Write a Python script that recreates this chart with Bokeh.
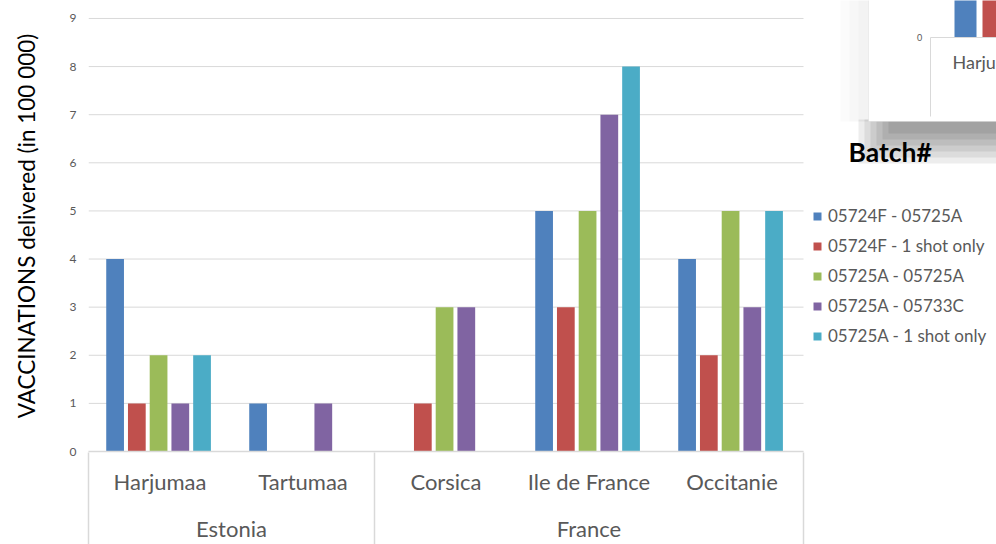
from bokeh.plotting import figure
from bokeh.models import (Range1d, ColumnDataSource, Legend, LegendItem,
                          Label, BoxAnnotation, FixedTicker, LinearAxis)
from bokeh.transform import dodge
from bokeh.embed import file_html
from bokeh.resources import INLINE

# ---------------- data ----------------
countries = ["Estonia", "Estonia", "France", "France", "France"]
regions = ["Harjumaa", "Tartumaa", "Corsica", "Ile de France", "Occitanie"]
batches = ["05724F - 05725A", "05724F - 1 shot only", "05725A - 05725A",
           "05725A - 05733C", "05725A - 1 shot only"]
b_05724F_05725A = [4, 1, 0, 5, 4]
b_05724F_1shot = [1, 0, 1, 3, 2]
b_05725A_05725A = [2, 0, 3, 5, 5]
b_05725A_05733C = [1, 1, 3, 7, 3]
b_05725A_1shot = [2, 0, 0, 8, 5]
y_ticks = [0, 1, 2, 3, 4, 5, 6, 7, 8, 9]
y_title = "VACCINATIONS delivered (in 100 000)"
legend_title = "Batch#"

colors = ["#4F81BD", "#C0504D", "#9BBB59", "#8064A2", "#4BACC6"]
FONT = "Lato"
GREY_TXT = "#595959"
GRID = "#D9D9D9"

# ---------------- layout constants ----------------
W, H = 996, 544
LEFT, BOTTOM = 88, 92          # axis panels
SLOT = 143                      # px per region slot
TOP_PAD = 18                    # px between frame top and the "9" gridline
frame_w, frame_h = W - LEFT, H - BOTTOM

series = [b_05724F_05725A, b_05724F_1shot, b_05725A_05725A, b_05725A_05733C, b_05725A_1shot]
keys = ["s%d" % i for i in range(len(series))]
pos = [i + 0.5 for i in range(len(regions))]   # category slot centres
data = {"region": regions, "pos": pos}
for k, s in zip(keys, series):
    data[k] = s
src = ColumnDataSource(data)

x_end = frame_w / SLOT
y_end = y_ticks[-1] * frame_h / (frame_h - TOP_PAD)

p = figure(x_range=Range1d(0, x_end), y_range=Range1d(y_ticks[0], y_end),
           width=W, height=H,
           min_border_left=LEFT, min_border_right=0, min_border_top=0, min_border_bottom=BOTTOM,
           output_backend="svg", toolbar_location=None)
p.outline_line_color = None
p.xgrid.visible = False
p.ygrid.visible = False

# horizontal gridlines over the category span only
gsrc = ColumnDataSource(dict(y=y_ticks, x0=[0] * len(y_ticks), x1=[len(regions)] * len(y_ticks)))
p.segment(x0="x0", x1="x1", y0="y", y1="y", source=gsrc, line_color=GRID, line_width=1)

# bars
step = 0.152
bw = 0.124
renderers = []
n = len(series)
for i, (k, c) in enumerate(zip(keys, colors)):
    off = (i - (n - 1) / 2) * step - 0.01
    r = p.vbar(x=dodge("pos", off), top=k, width=bw, bottom=0,
               source=src, fill_color=c, line_color=None)
    renderers.append(r)

# ---------------- axes ----------------
ya = p.yaxis[0]
ya.ticker = FixedTicker(ticks=y_ticks)
ya.axis_line_color = None
ya.major_tick_line_color = None
ya.minor_tick_line_color = None
ya.major_tick_out = 0
ya.minor_tick_out = 0
ya.major_label_text_font = FONT
ya.major_label_text_font_size = "12px"
ya.major_label_text_color = GREY_TXT
ya.major_label_standoff = 12
ya.axis_label = y_title
ya.axis_label_text_font = FONT
ya.axis_label_text_font_size = "22.5px"
ya.axis_label_text_font_style = "normal"
ya.axis_label_text_color = "#000000"
ya.axis_label_standoff = 27

xa = p.xaxis[0]
xa.ticker = FixedTicker(ticks=pos)
xa.major_label_overrides = {x: r for x, r in zip(pos, regions)}
xa.bounds = (0, len(regions))
xa.axis_line_color = GRID
xa.axis_line_width = 1.5
xa.major_tick_line_color = None
xa.minor_tick_line_color = None
xa.major_tick_out = 0
xa.minor_tick_out = 0
xa.major_label_text_font = FONT
xa.major_label_text_font_size = "22px"
xa.major_label_text_color = GREY_TXT
xa.major_label_standoff = 16

# country (group) axis
groups, centers, bounds = [], [], [0]
i = 0
while i < len(countries):
    j = i
    while j < len(countries) and countries[j] == countries[i]:
        j += 1
    groups.append(countries[i])
    centers.append((i + j) / 2)
    bounds.append(j)
    i = j
ca = LinearAxis(ticker=FixedTicker(ticks=centers),
                major_label_overrides={c: g for c, g in zip(centers, groups)})
ca.axis_line_color = None
ca.major_tick_line_color = None
ca.minor_tick_line_color = None
ca.major_tick_out = 0
ca.minor_tick_out = 0
ca.major_label_text_font = FONT
ca.major_label_text_font_size = "22px"
ca.major_label_text_color = GREY_TXT
ca.major_label_standoff = 17
p.add_layout(ca, "below")

# group separators: long inward ticks of a label-less axis at the bottom
sa = LinearAxis(ticker=FixedTicker(ticks=bounds),
                major_label_overrides={b: "" for b in bounds})
sa.axis_line_color = None
sa.major_tick_in = BOTTOM
sa.major_tick_out = 0
sa.minor_tick_in = 0
sa.minor_tick_out = 0
sa.major_tick_line_color = GRID
sa.major_tick_line_width = 1.5
sa.minor_tick_line_color = None
sa.major_label_text_font_size = "1px"
sa.major_label_standoff = 0
p.add_layout(sa, "below")

# ---- overlapping preview-window decoration (top right), frame-relative px ----
def sbox(l, r, t, b, **kw):
    p.add_layout(BoxAnnotation(left=l, right=r, top=t, bottom=b,
                               left_units="screen", right_units="screen",
                               top_units="screen", bottom_units="screen", **kw))

for k in range(6):
    sbox(770 + 6 * k, 920, 332, 288 + 6 * k, fill_color="black", fill_alpha=0.07, line_color=None)
for k in range(3):
    sbox(752 + 9 * k, 780, 470, 330, fill_color="black", fill_alpha=0.015, line_color=None)
sbox(780, 920, 470, 330, fill_color="white", fill_alpha=1, line_color="#C8C8C8", line_width=1)
sbox(866, 888, 470, 414, fill_color=colors[0], fill_alpha=1, line_color=None)
sbox(894, 920, 470, 414, fill_color=colors[1], fill_alpha=1, line_color=None)
sbox(842, 920, 414.5, 413.5, fill_color=GRID, fill_alpha=1, line_color=None)
sbox(841.5, 842.5, 414, 335, fill_color=GRID, fill_alpha=1, line_color=None)
p.add_layout(Label(x=831, y=414, x_units="screen", y_units="screen", text="0",
                   text_font=FONT, text_font_size="9px", text_color=GREY_TXT,
                   text_align="center", text_baseline="middle"))
p.add_layout(Label(x=864, y=390, x_units="screen", y_units="screen", text="Harju",
                   text_font=FONT, text_font_size="18px", text_color=GREY_TXT,
                   text_align="left", text_baseline="middle"))

# legend title
p.add_layout(Label(x=760, y=300, x_units="screen", y_units="screen", text=legend_title,
                   text_font=FONT, text_font_size="26.5px", text_font_style="bold",
                   text_color="#000000", text_align="left", text_baseline="middle"))

legend = Legend(items=[LegendItem(label=b, renderers=[r]) for b, r in zip(batches, renderers)],
                location=(724, 105))
legend.glyph_width = 10
legend.glyph_height = 10
legend.label_height = 21
legend.spacing = 9
legend.padding = 0
legend.margin = 0
legend.label_standoff = 6
legend.border_line_color = None
legend.background_fill_alpha = 0
legend.label_text_font = FONT
legend.label_text_font_size = "17px"
legend.label_text_color = GREY_TXT
p.add_layout(legend)

open("out.html", "w").write(file_html(p, INLINE))
